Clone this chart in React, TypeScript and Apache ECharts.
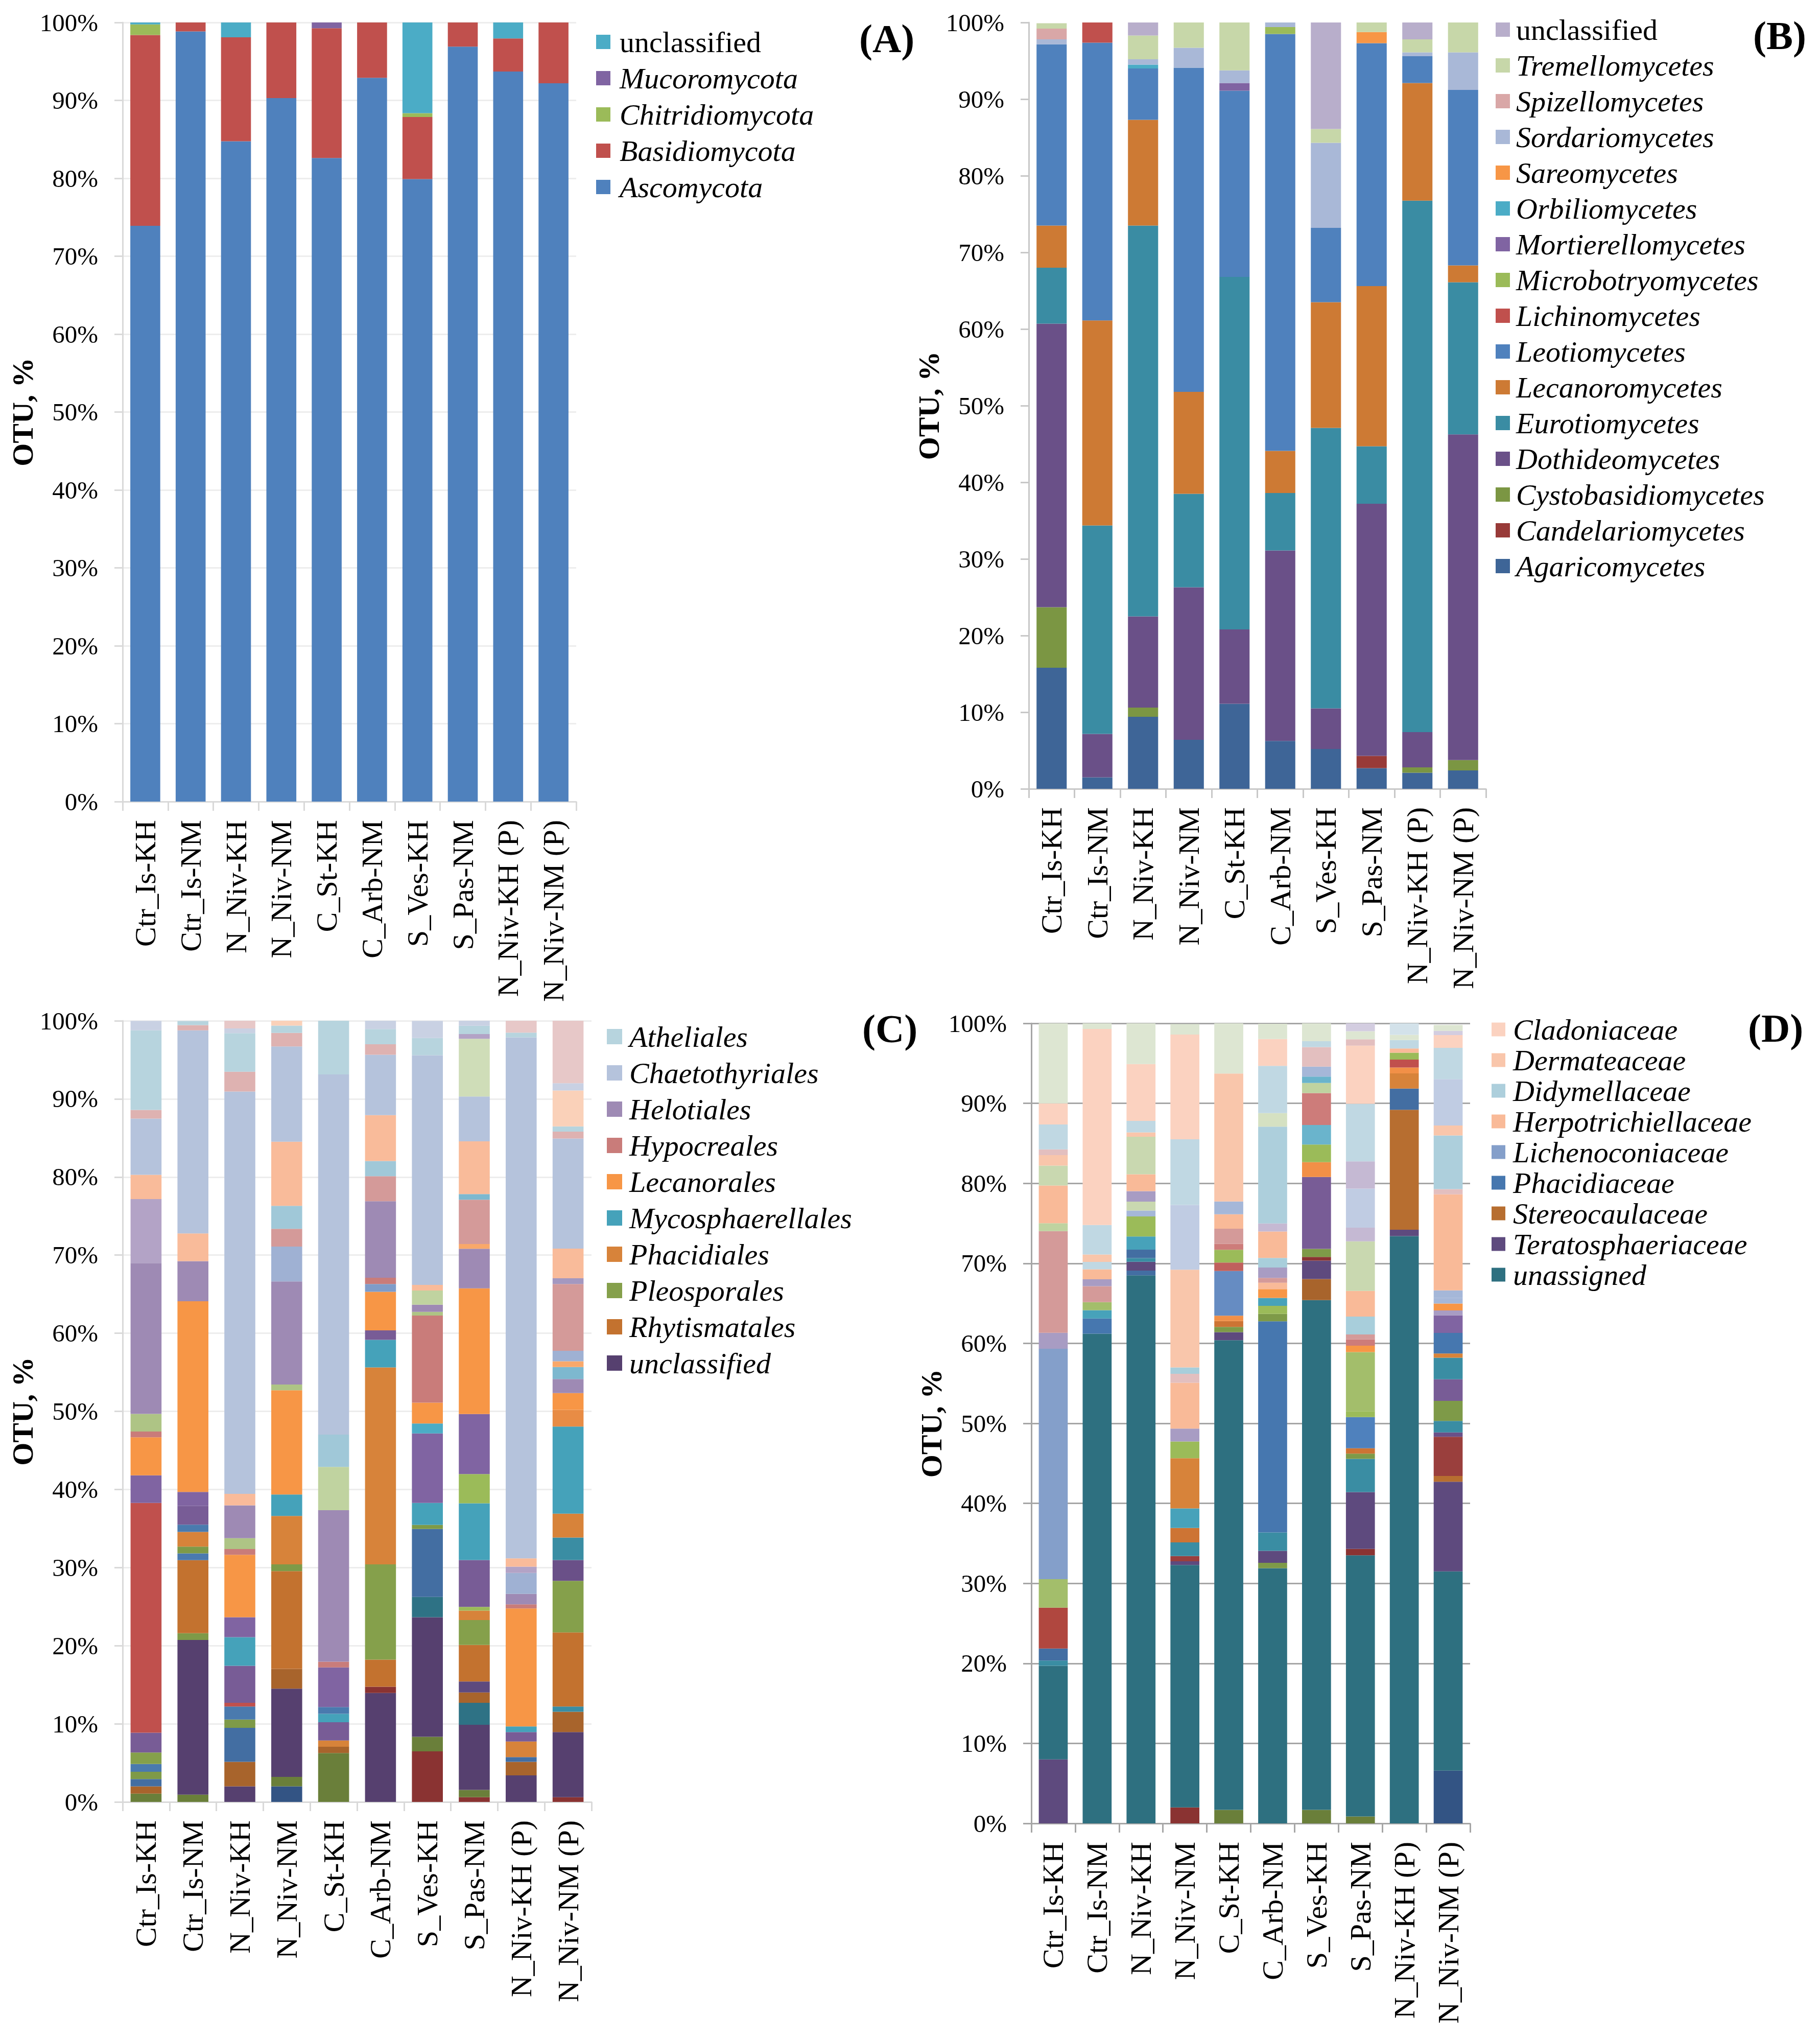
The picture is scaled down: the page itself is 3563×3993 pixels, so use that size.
import React, { useEffect, useRef } from "react";
import * as echarts from "echarts";

const FONT = "Liberation Serif, Times New Roman, serif";

const categories = ["Ctr_Is-KH", "Ctr_Is-NM", "N_Niv-KH", "N_Niv-NM", "C_St-KH", "C_Arb-NM", "S_Ves-KH", "S_Pas-NM", "N_Niv-KH (P)", "N_Niv-NM (P)"];
const yTicks = [0, 10, 20, 30, 40, 50, 60, 70, 80, 90, 100];

// ---------- Panel A: phyla ----------
const ascomycota = [73.9, 98.85, 84.75, 90.3, 82.6, 92.9, 79.9, 96.9, 93.7, 92.2];
const basidiomycota = [24.5, 1.15, 13.35, 9.7, 16.66, 7.1, 7.97, 3.1, 4.25, 7.8];
const chitridiomycota = [1.35, 0, 0, 0, 0, 0, 0.49, 0, 0, 0];
const mucoromycota = [0, 0, 0, 0, 0.74, 0, 0, 0, 0, 0];
const unclassifiedA = [0.25, 0, 1.9, 0, 0, 0, 11.64, 0, 2.05, 0];
const aStackOrder = ["Ascomycota", "Basidiomycota", "Chitridiomycota", "Mucoromycota", "unclassified"];
const aValues: Record<string, number[]> = { Ascomycota: ascomycota, Basidiomycota: basidiomycota, Chitridiomycota: chitridiomycota, Mucoromycota: mucoromycota, unclassified: unclassifiedA };
const aColors: Record<string, string> = { Ascomycota: "#4F81BD", Basidiomycota: "#C0504D", Chitridiomycota: "#9BBB59", Mucoromycota: "#8064A2", unclassified: "#4BACC6" };

// ---------- Panel B: classes ----------
const agaricomycetes = [15.8, 1.5, 9.4, 6.4, 11.1, 6.25, 5.2, 2.7, 2.1, 2.4];
const candelariomycetes = [0, 0, 0, 0, 0, 0, 0, 1.6, 0, 0];
const cystobasidiomycetes = [7.9, 0, 1.2, 0, 0, 0, 0, 0, 0.7, 1.35];
const dothideomycetes = [37.0, 5.67, 11.9, 19.9, 9.7, 24.85, 5.3, 32.9, 4.6, 42.5];
const eurotiomycetes = [7.3, 27.2, 51.0, 12.2, 46.0, 7.5, 36.6, 7.5, 69.35, 19.85];
const lecanoromycetes = [5.5, 26.75, 13.8, 13.3, 0, 5.5, 16.4, 20.9, 15.35, 2.2];
const leotiomycetes = [23.65, 36.25, 6.7, 42.3, 24.3, 54.4, 9.7, 31.7, 3.5, 22.9];
const lichinomycetes = [0, 2.7, 0, 0, 0, 0, 0, 0, 0, 0];
const microbotryomycetes = [0, 0, 0, 0, 0, 0.9, 0, 0, 0, 0];
const mortierellomycetes = [0, 0, 0, 0, 1.0, 0, 0, 0, 0, 0];
const orbiliomycetes = [0, 0, 0.5, 0, 0, 0, 0, 0, 0, 0];
const sareomycetes = [0, 0, 0, 0, 0, 0, 0, 1.45, 0, 0];
const sordariomycetes = [0.65, 0, 0.7, 2.6, 1.65, 0.6, 11.1, 0, 0.5, 4.9];
const spizellomycetes = [1.4, 0, 0, 0, 0, 0, 0, 0, 0, 0];
const tremellomycetes = [0.7, 0, 3.1, 3.3, 6.25, 0, 1.8, 1.25, 1.7, 3.9];
const unclassifiedB = [0, 0, 1.7, 0, 0, 0, 13.9, 0, 2.2, 0];
const bStackOrder = ["Agaricomycetes", "Candelariomycetes", "Cystobasidiomycetes", "Dothideomycetes", "Eurotiomycetes", "Lecanoromycetes", "Leotiomycetes", "Lichinomycetes", "Microbotryomycetes", "Mortierellomycetes", "Orbiliomycetes", "Sareomycetes", "Sordariomycetes", "Spizellomycetes", "Tremellomycetes", "unclassified"];
const bValues: Record<string, number[]> = {
  Agaricomycetes: agaricomycetes, Candelariomycetes: candelariomycetes, Cystobasidiomycetes: cystobasidiomycetes,
  Dothideomycetes: dothideomycetes, Eurotiomycetes: eurotiomycetes, Lecanoromycetes: lecanoromycetes,
  Leotiomycetes: leotiomycetes, Lichinomycetes: lichinomycetes, Microbotryomycetes: microbotryomycetes,
  Mortierellomycetes: mortierellomycetes, Orbiliomycetes: orbiliomycetes, Sareomycetes: sareomycetes,
  Sordariomycetes: sordariomycetes, Spizellomycetes: spizellomycetes, Tremellomycetes: tremellomycetes, unclassified: unclassifiedB,
};
const bColors: Record<string, string> = {
  Agaricomycetes: "#3E6597", Candelariomycetes: "#983A38", Cystobasidiomycetes: "#7B9643", Dothideomycetes: "#6A5088",
  Eurotiomycetes: "#3A8CA3", Lecanoromycetes: "#CD7A34", Leotiomycetes: "#4F81BD", Lichinomycetes: "#C0504D",
  Microbotryomycetes: "#9BBB59", Mortierellomycetes: "#8064A2", Orbiliomycetes: "#4BACC6", Sareomycetes: "#F79646",
  Sordariomycetes: "#A9B8D7", Spizellomycetes: "#D9A7A7", Tremellomycetes: "#C7D7A9", unclassified: "#B8AECB",
};

// ---------- Panel C: orders (segments bottom -> top, [taxon key, %]) ----------
type Seg = [string, number];
const cCtrIsKH: Seg[] = [["olive", 1.07], ["brown", 0.93], ["steel", 0.93], ["green", 0.93], ["blue", 1.0], ["Pleosporales", 1.47], ["violet", 2.54], ["red", 29.4], ["purple", 3.54], ["Lecanorales", 4.87], ["Hypocreales", 0.73], ["paleGreen", 2.27], ["Helotiales", 19.3], ["lilac", 8.2], ["peach", 3.1], ["Chaetothyriales", 7.2], ["pink", 1.1], ["Atheliales", 10.2], ["lavender", 1.2]];
const cCtrIsNM: Seg[] = [["olive", 0.93], ["unclassified", 19.8], ["green", 0.87], ["Rhytismatales", 9.35], ["blue", 0.87], ["green", 0.87], ["Phacidiales", 1.87], ["blue", 0.93], ["violet", 2.4], ["purple", 1.8], ["Lecanorales", 24.4], ["Helotiales", 5.14], ["peach", 3.54], ["Chaetothyriales", 26.0], ["pink", 0.67], ["Atheliales", 0.53]];
const cNNivKH: Seg[] = [["unclassified", 2.0], ["brown", 3.14], ["steel", 4.34], ["green", 1.07], ["blue", 1.67], ["red", 0.47], ["violet", 4.74], ["Mycosphaerellales", 3.67], ["purple", 2.54], ["Lecanorales", 8.0], ["Hypocreales", 0.73], ["paleGreen", 1.4], ["Helotiales", 4.2], ["peach", 1.47], ["Chaetothyriales", 51.5], ["pink", 2.54], ["Atheliales", 4.94], ["lavender", 0.6], ["blush", 1.0]];
const cNNivNM: Seg[] = [["navy", 2.0], ["olive", 1.2], ["unclassified", 11.3], ["brown", 2.54], ["Rhytismatales", 12.5], ["green", 0.87], ["Phacidiales", 6.2], ["Mycosphaerellales", 2.74], ["Lecanorales", 13.35], ["paleGreen", 0.73], ["Helotiales", 13.2], ["periwinkle", 4.47], ["rose", 2.27], ["aqua", 2.94], ["peach", 8.2], ["Chaetothyriales", 12.2], ["pink", 1.74], ["Atheliales", 0.93], ["apricot", 0.67]];
const cCStKH: Seg[] = [["olive", 6.27], ["brown", 0.8], ["Phacidiales", 0.8], ["violet", 2.34], ["Mycosphaerellales", 1.07], ["blue", 0.87], ["purple", 5.07], ["Hypocreales", 0.73], ["Helotiales", 19.4], ["sage", 5.54], ["aqua", 4.14], ["Chaetothyriales", 46.1], ["Atheliales", 6.94]];
const cCArbNM: Seg[] = [["unclassified", 13.95], ["maroon", 0.8], ["Rhytismatales", 3.47], ["Pleosporales", 12.2], ["Phacidiales", 25.2], ["Mycosphaerellales", 3.54], ["violet", 1.2], ["Lecanorales", 4.94], ["denim", 1.0], ["Hypocreales", 0.8], ["Helotiales", 9.8], ["rose", 3.2], ["aqua", 1.94], ["peach", 5.87], ["Chaetothyriales", 7.74], ["pink", 1.34], ["Atheliales", 1.94], ["lavender", 1.13]];
const cSVesKH: Seg[] = [["maroon", 6.47], ["olive", 1.87], ["unclassified", 15.3], ["darkTeal", 2.6], ["steel", 8.7], ["green", 0.53], ["Mycosphaerellales", 2.8], ["purple", 8.9], ["cyan", 1.27], ["Lecanorales", 2.67], ["Hypocreales", 11.15], ["paleGreen", 0.47], ["Helotiales", 0.93], ["sage", 1.8], ["peach", 0.73], ["Chaetothyriales", 29.4], ["Atheliales", 2.2], ["lavender", 2.2]];
const cSPasNM: Seg[] = [["maroon", 0.6], ["olive", 0.93], ["unclassified", 8.35], ["darkTeal", 2.8], ["brown", 1.34], ["plum", 1.4], ["Rhytismatales", 4.67], ["Pleosporales", 3.2], ["Phacidiales", 1.2], ["lime", 0.47], ["violet", 6.0], ["Mycosphaerellales", 7.27], ["lime", 3.74], ["purple", 7.68], ["Lecanorales", 16.1], ["Helotiales", 5.07], ["tangerine", 0.6], ["rose", 5.67], ["sky", 0.73], ["peach", 6.74], ["Chaetothyriales", 5.74], ["mist", 7.4], ["lilac", 0.6], ["Atheliales", 1.07], ["lavender", 0.67]];
const cNNivKHP: Seg[] = [["unclassified", 3.4], ["brown", 1.74], ["steel", 0.6], ["Phacidiales", 2.0], ["violet", 1.2], ["Mycosphaerellales", 0.73], ["Lecanorales", 15.1], ["Hypocreales", 0.53], ["Helotiales", 1.34], ["periwinkle", 2.67], ["lilac", 0.8], ["peach", 1.07], ["Chaetothyriales", 66.7], ["Atheliales", 0.6], ["blush", 1.6]];
const cNNivNMP: Seg[] = [["maroon", 0.6], ["unclassified", 8.35], ["brown", 2.6], ["teal", 0.67], ["Rhytismatales", 9.48], ["Pleosporales", 6.6], ["grape", 2.67], ["teal", 2.87], ["Phacidiales", 3.07], ["Mycosphaerellales", 11.15], ["amber", 2.14], ["Lecanorales", 2.14], ["Helotiales", 1.8], ["sky", 1.54], ["tangerine", 0.73], ["periwinkle", 1.34], ["rose", 8.55], ["mauve", 0.73], ["peach", 3.8], ["Chaetothyriales", 14.1], ["pink", 0.87], ["Atheliales", 0.67], ["apricot", 4.6], ["lavender", 0.93], ["blush", 8.1]];
const cBars = [cCtrIsKH, cCtrIsNM, cNNivKH, cNNivNM, cCStKH, cCArbNM, cSVesKH, cSPasNM, cNNivKHP, cNNivNMP];
const cLegend = ["Atheliales", "Chaetothyriales", "Helotiales", "Hypocreales", "Lecanorales", "Mycosphaerellales", "Phacidiales", "Pleosporales", "Rhytismatales", "unclassified"];
const cColors: Record<string, string> = {
  Atheliales: "#B7D4DE", Chaetothyriales: "#B5C3DC", Helotiales: "#9E8AB4", Hypocreales: "#C97C7A", Lecanorales: "#F79646",
  Mycosphaerellales: "#45A2BA", Phacidiales: "#D7833A", Pleosporales: "#85A04B", Rhytismatales: "#C3722F", unclassified: "#56406F",
  olive: "#6A7F3A", brown: "#A8642C", steel: "#436EA2", green: "#7E9A48", blue: "#4A7AAE", violet: "#785C96", red: "#C0504D",
  purple: "#8064A2", paleGreen: "#AEC485", lilac: "#B3A3C6", peach: "#F9BB9A", pink: "#DEB2B1", lavender: "#C9D1E3",
  maroon: "#8A3332", darkTeal: "#2E7285", teal: "#3A8DA3", cyan: "#4BACC6", navy: "#335484", periwinkle: "#9FB1D3",
  rose: "#D49A99", aqua: "#A0C8D8", apricot: "#FAD1B9", blush: "#E7C8C8", sage: "#C0D3A0", mist: "#CFDDB8", denim: "#7F9CC9",
  tangerine: "#F9A86A", lime: "#9BBB59", plum: "#5E4A7E", grape: "#6A5088", amber: "#E88C45", sky: "#7DB8CF", mauve: "#A498C0",
};

// ---------- Panel D: families (segments bottom -> top) ----------
const dCtrIsKH: Seg[] = [["Teratosphaeriaceae", 8.0], ["unassigned", 11.7], ["teal", 0.66], ["steel", 1.5], ["red", 5.1], ["lime2", 3.56], ["Lichenoconiaceae", 28.8], ["mauve", 2.0], ["rose", 12.7], ["paleGreen", 1.0], ["Herpotrichiellaceae", 4.7], ["sage", 2.5], ["Dermateaceae", 1.3], ["blush", 0.73], ["ice", 3.1], ["Cladoniaceae", 2.64], ["mint", 10.1]];
const dCtrIsNM: Seg[] = [["unassigned", 61.2], ["Phacidiaceae", 1.9], ["cyan", 1.05], ["lime2", 1.0], ["rose", 2.0], ["mauve", 0.86], ["Herpotrichiellaceae", 1.25], ["ice", 0.92], ["Dermateaceae", 0.92], ["ice", 3.7], ["Cladoniaceae", 24.5], ["mint", 0.73]];
const dNNivKH: Seg[] = [["unassigned", 68.5], ["steel", 0.6], ["Teratosphaeriaceae", 1.1], ["teal", 0.46], ["steel", 1.05], ["cyan", 1.65], ["lime", 2.5], ["periwinkle", 0.73], ["sage", 1.12], ["mauve", 1.32], ["Herpotrichiellaceae", 2.1], ["sage", 4.7], ["Dermateaceae", 0.53], ["ice", 1.45], ["Cladoniaceae", 7.1], ["mint", 5.1]];
const dNNivNM: Seg[] = [["maroon", 2.0], ["unassigned", 30.3], ["Teratosphaeriaceae", 0.46], ["wine", 0.66], ["teal", 1.7], ["copper", 1.8], ["cyan", 2.45], ["orange", 6.27], ["lime", 2.1], ["mauve", 1.6], ["Herpotrichiellaceae", 5.74], ["blush", 1.12], ["aqua", 0.8], ["Dermateaceae", 12.2], ["lavender", 8.1], ["ice", 8.2], ["Cladoniaceae", 13.1], ["mint", 1.3]];
const dCStKH: Seg[] = [["olive", 1.7], ["unassigned", 58.7], ["Teratosphaeriaceae", 1.0], ["green", 0.66], ["copper", 0.73], ["amber", 0.66], ["cornflower", 5.6], ["brick", 1.05], ["lime", 1.6], ["coral", 0.73], ["rose", 1.9], ["Herpotrichiellaceae", 1.8], ["periwinkle", 1.6], ["Dermateaceae", 16.0], ["mint", 6.3]];
const dCArbNM: Seg[] = [["unassigned", 31.9], ["green", 0.66], ["Teratosphaeriaceae", 1.5], ["teal", 2.3], ["Phacidiaceae", 26.4], ["green", 0.92], ["lime", 1.0], ["cyan", 1.0], ["tangerine", 1.1], ["Herpotrichiellaceae", 0.8], ["rose", 0.6], ["mauve", 1.3], ["aqua", 1.2], ["Herpotrichiellaceae", 3.3], ["lilac", 1.0], ["Didymellaceae", 12.1], ["moss", 1.7], ["ice", 5.9], ["Cladoniaceae", 3.36], ["mint", 1.9]];
const dSVesKH: Seg[] = [["olive", 1.7], ["unassigned", 63.7], ["brown", 2.64], ["Teratosphaeriaceae", 2.3], ["maroon", 0.46], ["green", 1.0], ["violet", 9.0], ["amber", 1.85], ["lime", 2.2], ["sky", 2.44], ["coral", 4.0], ["paleGreen", 1.25], ["sky", 0.8], ["periwinkle", 1.25], ["blush", 2.44], ["ice", 0.73], ["mint", 2.24]];
const dSPasNM: Seg[] = [["olive", 0.86], ["unassigned", 32.65], ["maroon", 0.8], ["Teratosphaeriaceae", 7.1], ["teal", 4.15], ["green", 0.66], ["copper", 0.66], ["blue", 3.9], ["lime", 0.73], ["lime2", 7.4], ["tangerine", 0.8], ["coral", 0.8], ["rose", 0.6], ["aqua", 2.24], ["Herpotrichiellaceae", 3.2], ["sage", 6.2], ["lilac", 1.7], ["lavender", 4.9], ["lilac", 3.4], ["ice", 7.2], ["Cladoniaceae", 7.26], ["blush", 0.8], ["mint", 1.0], ["heather", 1.05]];
const dNNivKHP: Seg[] = [["unassigned", 73.4], ["Teratosphaeriaceae", 0.8], ["Stereocaulaceae", 15.0], ["steel", 2.64], ["orange", 1.9], ["amber", 0.73], ["crimson", 1.0], ["lime", 0.86], ["Herpotrichiellaceae", 0.53], ["ice", 1.05], ["mint", 0.66], ["paleSky", 1.45]];
const dNNivNMP: Seg[] = [["navy", 6.6], ["unassigned", 24.9], ["Teratosphaeriaceae", 11.2], ["Stereocaulaceae", 0.73], ["wine", 4.9], ["grape", 0.53], ["teal", 1.45], ["green", 2.5], ["violet", 2.7], ["teal", 2.7], ["orange", 0.53], ["Phacidiaceae", 2.57], ["purple", 2.2], ["mauve", 0.6], ["tangerine", 0.86], ["periwinkle", 0.73], ["periwinkle", 0.92], ["Herpotrichiellaceae", 12.0], ["blush", 0.66], ["Didymellaceae", 6.7], ["Dermateaceae", 1.25], ["lavender", 5.8], ["ice", 3.9], ["Cladoniaceae", 1.6], ["heather", 0.53], ["mint", 0.73]];
const dBars = [dCtrIsKH, dCtrIsNM, dNNivKH, dNNivNM, dCStKH, dCArbNM, dSVesKH, dSPasNM, dNNivKHP, dNNivNMP];
const dLegend = ["Cladoniaceae", "Dermateaceae", "Didymellaceae", "Herpotrichiellaceae", "Lichenoconiaceae", "Phacidiaceae", "Stereocaulaceae", "Teratosphaeriaceae", "unassigned"];
const dColors: Record<string, string> = {
  Cladoniaceae: "#FBD2C0", Dermateaceae: "#F9C6AB", Didymellaceae: "#ADCFDC", Herpotrichiellaceae: "#F9BA98",
  Lichenoconiaceae: "#849FCA", Phacidiaceae: "#4677AF", Stereocaulaceae: "#B76E30", Teratosphaeriaceae: "#5E4A7E", unassigned: "#2E7080",
  mint: "#DDE6D2", ice: "#C0D8E3", blush: "#E3BFBF", sage: "#C9D8B0", paleGreen: "#BFD3A0", rose: "#D49A99", mauve: "#A89CC3",
  lime: "#9BBB59", lime2: "#A3BE6B", red: "#B0473F", steel: "#436EA2", teal: "#3A8DA3", maroon: "#8A3332", olive: "#6A7F3A",
  cyan: "#47A2BA", navy: "#335484", orange: "#D7833A", copper: "#CD7434", amber: "#F29047", periwinkle: "#A5B7D8",
  lavender: "#C0CCE3", green: "#7E9A48", violet: "#785C96", purple: "#8064A2", brick: "#C0605D", coral: "#CD7C7A",
  lilac: "#C5B9D3", cornflower: "#668CC2", moss: "#D5E1C2", sky: "#6AB4CC", aqua: "#A8CEDB", brown: "#A8642C",
  wine: "#9A3F3D", grape: "#6A5088", paleSky: "#D3E2EA", tangerine: "#F79646", heather: "#D3CDE0", crimson: "#C0504D", blue: "#4F81BD",
};

// ---------- Layout ----------
const GRIDS = [
  { left: 240, top: 44, width: 888, height: 1525 },
  { left: 2014, top: 44, width: 895, height: 1500 },
  { left: 240, top: 1998, width: 918, height: 1529 },
  { left: 2019, top: 2003, width: 859, height: 1566 },
];
const AXIS_STYLE = [
  { line: "#D9D9D9", grid: "#EDEDED", showGrid: true },
  { line: "#C8C8C8", grid: "#EDEDED", showGrid: false },
  { line: "#D9D9D9", grid: "#EDEDED", showGrid: true },
  { line: "#A6A6A6", grid: "#A6A6A6", showGrid: true },
];
const GAP = "34%";

function buildOption() {
  const series: any[] = [];
  const bar = (name: string, data: any[], color: string | undefined, idx: number, stack: string) => ({
    type: "bar", name, data, stack, xAxisIndex: idx, yAxisIndex: idx, barCategoryGap: GAP, silent: true,
    itemStyle: color ? { color } : undefined,
  });
  aStackOrder.forEach((n) => series.push(bar("A|" + n, aValues[n], aColors[n], 0, "A")));
  bStackOrder.forEach((n) => series.push(bar("B|" + n, bValues[n], bColors[n], 1, "B")));
  const layers = (bars: Seg[][], colors: Record<string, string>, idx: number, stack: string) => {
    const n = Math.max(...bars.map((b) => b.length));
    for (let k = 0; k < n; k++) {
      series.push(bar(stack + "-layer-" + k, bars.map((b) => (b[k] ? { value: b[k][1], itemStyle: { color: colors[b[k][0]] } } : 0)), undefined, idx, stack));
    }
  };
  layers(cBars, cColors, 2, "C");
  cLegend.forEach((n) => series.push(bar("C|" + n, [], cColors[n], 2, "C")));
  layers(dBars, dColors, 3, "D");
  dLegend.forEach((n) => series.push(bar("D|" + n, [], dColors[n], 3, "D")));

  const legendText = (pad: number, italic: boolean) => ({ fontSize: 58, lineHeight: 58, fontFamily: FONT, color: "#000", fontStyle: italic ? "italic" : "normal", padding: [0, 0, 0, pad] });
  const mkLegend = (prefix: string, names: string[], left: number, top: number, size: number, gap: number, pad: number, uprightFirst: boolean) => ({
    orient: "vertical", left, top, itemWidth: size, itemHeight: size, itemGap: gap, icon: "rect", selectedMode: false,
    textStyle: legendText(pad, true),
    formatter: (name: string) => name.split("|")[1],
    data: names.map((n, i) => ({ name: prefix + "|" + n, textStyle: legendText(pad, !(uprightFirst && i === 0)) })),
  });

  const legend = [
    mkLegend("A", ["unclassified", "Mucoromycota", "Chitridiomycota", "Basidiomycota", "Ascomycota"], 1162, 48, 28, 13, 13, true),
    mkLegend("B", [...bStackOrder].reverse(), 2923, 24, 28, 12, 7, true),
    mkLegend("C", cLegend, 1183, 1995, 30, 13, 9, false),
    mkLegend("D", dLegend, 2915, 1981, 27, 2, 10, false),
  ];

  const xAxis = GRIDS.map((_, i) => ({
    type: "category", gridIndex: i, data: categories,
    axisLine: { show: true, lineStyle: { color: AXIS_STYLE[i].line, width: 3 } },
    axisTick: { show: true, length: 18, lineStyle: { color: AXIS_STYLE[i].line, width: 3 } },
    axisLabel: { rotate: 90, interval: 0, fontSize: 58, fontFamily: FONT, color: "#000", margin: 36 },
  }));
  const yAxis = GRIDS.map((_, i) => ({
    type: "value", gridIndex: i, min: yTicks[0], max: yTicks[yTicks.length - 1], interval: 10,
    name: "OTU, %", nameLocation: "middle", nameGap: 162, nameRotate: 90,
    nameTextStyle: { fontSize: 58, fontWeight: "bold", fontFamily: FONT, color: "#000" },
    axisLine: { show: true, lineStyle: { color: AXIS_STYLE[i].line, width: 3 } },
    axisTick: { show: true, length: 16, lineStyle: { color: AXIS_STYLE[i].line, width: 3 } },
    axisLabel: { formatter: "{value}%", fontSize: 49, fontFamily: FONT, color: "#000", margin: 48 },
    splitLine: { show: AXIS_STYLE[i].showGrid, lineStyle: { color: AXIS_STYLE[i].grid, width: 3 } },
  }));

  const title = [
    { text: "(A)", left: 1682, top: 36 },
    { text: "(B)", left: 3432, top: 30 },
    { text: "(C)", left: 1688, top: 1974 },
    { text: "(D)", left: 3422, top: 1973 },
  ].map((t) => ({ ...t, padding: 0, textStyle: { fontSize: 78, fontWeight: "bold", fontFamily: FONT, color: "#000" } }));

  return {
    animation: false,
    backgroundColor: "#ffffff",
    textStyle: { fontFamily: FONT },
    title,
    legend,
    grid: GRIDS,
    xAxis,
    yAxis,
    series,
  };
}

export default function App() {
  const ref = useRef<HTMLDivElement>(null);
  useEffect(() => {
    if (!ref.current) return;
    const chart = echarts.init(ref.current, null, { renderer: "svg", width: 3563, height: 3993 });
    chart.setOption(buildOption() as any);
    return () => chart.dispose();
  }, []);
  return <div ref={ref} style={{ position: "absolute", left: 0, top: 0, width: 3563, height: 3993, background: "#fff" }} />;
}
